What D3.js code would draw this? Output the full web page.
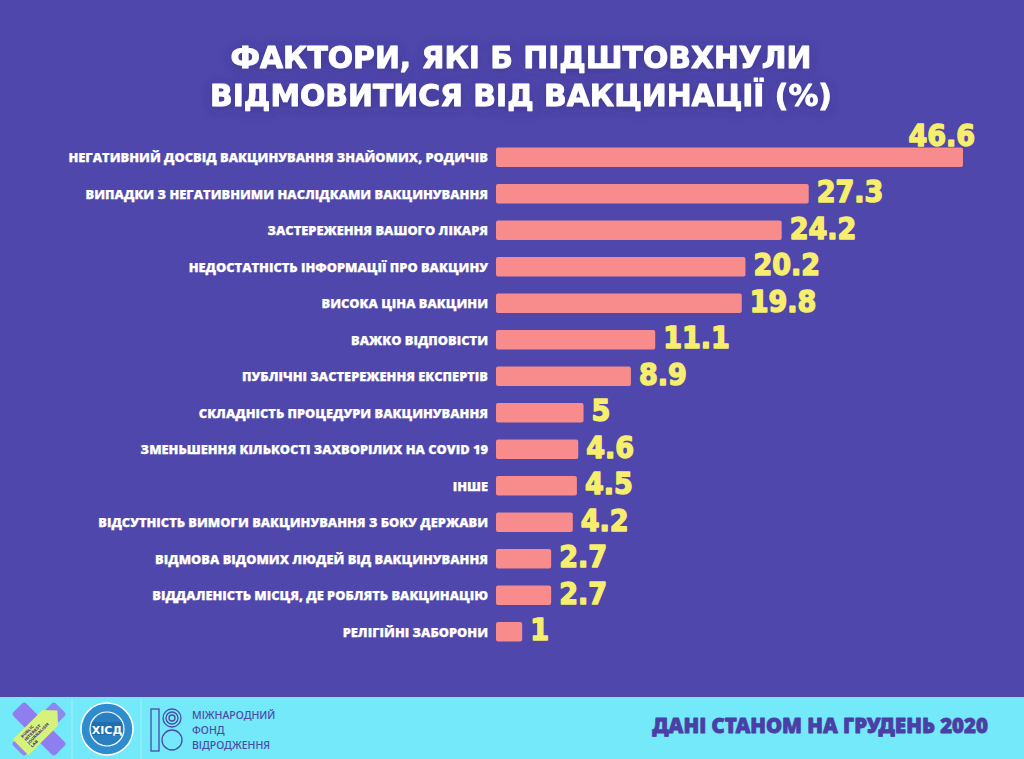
<!DOCTYPE html>
<html>
<head>
<meta charset="utf-8">
<script src="https://cdn.jsdelivr.net/npm/d3@7"></script>
<style>
html,body{margin:0;padding:0;background:#4f47ab;}
svg{display:block;}
</style>
</head>
<body>
<div id="chart"></div>
<script>
const titleLines = ["ФАКТОРИ, ЯКІ Б ПІДШТОВХНУЛИ", "ВІДМОВИТИСЯ ВІД ВАКЦИНАЦІЇ (%)"];
const categories = [
  "НЕГАТИВНИЙ ДОСВІД ВАКЦИНУВАННЯ ЗНАЙОМИХ, РОДИЧІВ",
  "ВИПАДКИ З НЕГАТИВНИМИ НАСЛІДКАМИ ВАКЦИНУВАННЯ",
  "ЗАСТЕРЕЖЕННЯ ВАШОГО ЛІКАРЯ",
  "НЕДОСТАТНІСТЬ ІНФОРМАЦІЇ ПРО ВАКЦИНУ",
  "ВИСОКА ЦІНА ВАКЦИНИ",
  "ВАЖКО ВІДПОВІСТИ",
  "ПУБЛІЧНІ ЗАСТЕРЕЖЕННЯ ЕКСПЕРТІВ",
  "СКЛАДНІСТЬ ПРОЦЕДУРИ ВАКЦИНУВАННЯ",
  "ЗМЕНЬШЕННЯ КІЛЬКОСТІ ЗАХВОРІЛИХ НА COVID 19",
  "ІНШЕ",
  "ВІДСУТНІСТЬ ВИМОГИ ВАКЦИНУВАННЯ З БОКУ ДЕРЖАВИ",
  "ВІДМОВА ВІДОМИХ ЛЮДЕЙ ВІД ВАКЦИНУВАННЯ",
  "ВІДДАЛЕНІСТЬ МІСЦЯ, ДЕ РОБЛЯТЬ ВАКЦИНАЦІЮ",
  "РЕЛІГІЙНІ ЗАБОРОНИ"
];
const values = [46.6, 27.3, 24.2, 20.2, 19.8, 11.1, 8.9, 5, 4.6, 4.5, 4.2, 2.7, 2.7, 1];
const footerNote = "ДАНІ СТАНОМ НА ГРУДЕНЬ 2020";
const fundLines = ["МІЖНАРОДНИЙ", "ФОНД", "ВІДРОДЖЕННЯ"];
const logoLabel = "ХІСД";
const labLines = ["PUBLIC", "INTEREST", "JOURNALISM", "LAB"];

const W = 1024, H = 759;
const C = {bg:"#4f47ab", bar:"#f88b8c", val:"#f6ee6c", footer:"#74e9f9", footText:"#4a3fa6", fund:"#4b4ba6"};

const svg = d3.select("#chart").append("svg").attr("width", W).attr("height", H);
svg.append("rect").attr("width", W).attr("height", H).attr("fill", C.bg);

const defs = svg.append("defs");
const f = defs.append("filter").attr("id","glow").attr("x","-10%").attr("y","-30%").attr("width","120%").attr("height","160%");
f.append("feDropShadow").attr("dx",0).attr("dy",2).attr("stdDeviation",6).attr("flood-color","#2e2680").attr("flood-opacity",0.55);

function fitWidth(sel, target) {
  const w = sel.node().getComputedTextLength();
  const fs = parseFloat(sel.attr("font-size"));
  return fs * target / w;
}

// Title
const titleG = svg.append("g").attr("filter","url(#glow)");
const tl = titleG.selectAll("text").data(titleLines).join("text")
  .attr("x", 521).attr("y", (d,i) => i ? 106 : 68)
  .attr("text-anchor","middle")
  .attr("font-family","'DejaVu Sans',sans-serif")
  .attr("font-weight",700)
  .attr("font-size",30)
  .attr("fill","#ffffff")
  .attr("stroke","#ffffff").attr("stroke-width",0.9).attr("stroke-linejoin","round")
  .text(d => d);
const tfs = fitWidth(d3.select(tl.nodes()[1]), 622);
tl.attr("font-size", tfs);

// Scales
const x0 = 496;
const x = d3.scalePow().exponent(0.75).domain([0, d3.max(values)]).range([0, 467]);
const y = d3.scaleBand().domain(categories).range([147.5, 641.5]).paddingInner(0.466).paddingOuter(0);

const rows = svg.append("g").selectAll("g").data(categories.map((c,i)=>({c, v:values[i]}))).join("g");

rows.append("rect")
  .attr("x", x0)
  .attr("y", d => y(d.c))
  .attr("width", d => x(d.v))
  .attr("height", y.bandwidth())
  .attr("rx", 2)
  .attr("fill", C.bar);

const labels = rows.append("text")
  .attr("x", 488)
  .attr("y", d => y(d.c) + y.bandwidth()/2 + 4.8)
  .attr("text-anchor","end")
  .attr("font-family","'Open Sans','DejaVu Sans',sans-serif")
  .attr("font-weight",800)
  .attr("font-size",13)
  .attr("fill","#ffffff")
  .attr("stroke","#ffffff").attr("stroke-width",0.25)
  .text(d => d.c);
const lfs = fitWidth(d3.select(labels.nodes()[0]), 420);
labels.attr("font-size", lfs);

const vals = rows.append("text")
  .attr("font-family","'DejaVu Sans Condensed','DejaVu Sans',sans-serif")
  .attr("font-stretch","condensed")
  .attr("font-weight",700)
  .attr("font-size",30)
  .attr("fill", C.val)
  .attr("stroke", C.val).attr("stroke-width",1.4).attr("stroke-linejoin","round")
  .text(d => d3.format("~g")(d.v));
vals.each(function(d){
  const t = d3.select(this);
  const end = x0 + x(d.v);
  const w = this.getComputedTextLength();
  if (end + 7 + w > W - 20) {
    t.attr("x", end + 12).attr("y", y(d.c) - 2).attr("text-anchor","end");
  } else {
    t.attr("x", end + 8).attr("y", y(d.c) + y.bandwidth()/2 + 8.5).attr("text-anchor","start");
  }
});

// Footer
const foot = svg.append("g");
foot.append("rect").attr("x",0).attr("y",697).attr("width",W).attr("height",H-697).attr("fill",C.footer);

const fn = foot.append("text")
  .attr("x", 988).attr("y", 733).attr("text-anchor","end")
  .attr("font-family","'Noto Sans','DejaVu Sans',sans-serif")
  .attr("font-weight",900).attr("font-size",18)
  .attr("fill", C.footText)
  .attr("stroke", C.footText).attr("stroke-width",0.8).attr("stroke-linejoin","round")
  .text(footerNote);
fn.attr("font-size", fitWidth(fn, 336));

// dividers
foot.selectAll("line.div").data([72, 141]).join("line")
  .attr("x1", d=>d).attr("x2", d=>d).attr("y1", 699).attr("y2", 759)
  .attr("stroke","#ffffff").attr("stroke-opacity",0.35);

// Logo 1: journalism lab
const l1 = foot.append("g").attr("transform","translate(39,729)");
l1.append("rect").attr("x",-30).attr("y",-9).attr("width",60).attr("height",18).attr("rx",3)
  .attr("fill","#8e7ef0").attr("transform","rotate(45)");
l1.append("rect").attr("x",-30).attr("y",-9).attr("width",60).attr("height",18).attr("rx",3)
  .attr("fill","#8e7ef0").attr("transform","rotate(-45)").attr("opacity",0.9);
l1.append("path").attr("d","M-26,-11 L16,-11 L26,0 L16,11 L-26,11 Z")
  .attr("fill","#d7f27c").attr("transform","rotate(-45)");
l1.append("g").attr("transform","rotate(-45)").selectAll("text").data(labLines).join("text")
  .attr("x",-18).attr("y",(d,i)=>-5 + i*4.5)
  .attr("font-family","'DejaVu Sans',sans-serif").attr("font-weight",700).attr("font-size",4)
  .attr("fill","#3b3b7a").text(d=>d);

// Logo 2: circle
const l2 = foot.append("g").attr("transform","translate(107,729)");
l2.append("circle").attr("r",26).attr("fill","#2f8ccf").attr("stroke","#ffffff").attr("stroke-width",1.5);
l2.append("circle").attr("r",17).attr("fill","#2a7fc0").attr("stroke","#ffffff").attr("stroke-width",1.2);
l2.append("rect").attr("x",-15).attr("y",-7).attr("width",30).attr("height",13).attr("fill","#1f6eae");
l2.append("text").attr("text-anchor","middle").attr("y",4.5)
  .attr("font-family","'DejaVu Sans',sans-serif").attr("font-weight",700).attr("font-size",11)
  .attr("fill","#ffffff").text(logoLabel);

// Logo 3: fund
const l3 = foot.append("g");
l3.append("rect").attr("x",151).attr("y",709).attr("width",8).attr("height",42)
  .attr("fill","none").attr("stroke",C.fund).attr("stroke-width",1.3);
[9,6,3].forEach(r => l3.append("circle").attr("cx",172).attr("cy",718).attr("r",r)
  .attr("fill","none").attr("stroke",C.fund).attr("stroke-width",1.3));
l3.append("circle").attr("cx",172).attr("cy",740).attr("r",10)
  .attr("fill","none").attr("stroke",C.fund).attr("stroke-width",1.3);
foot.selectAll("text.fund").data(fundLines).join("text").attr("class","fund")
  .attr("x",192).attr("y",(d,i)=>719 + i*15)
  .attr("font-family","'Noto Sans','DejaVu Sans',sans-serif").attr("font-weight",500).attr("font-size",10.5)
  .attr("fill",C.fund).text(d=>d);
</script>
</body>
</html>
